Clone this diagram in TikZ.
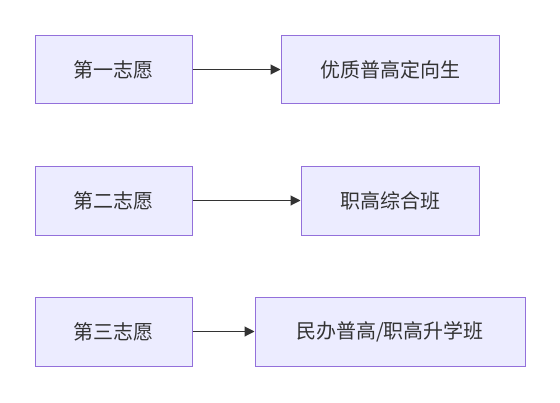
\documentclass[tikz,border=0pt]{standalone}
\usepackage{fontspec}
\setmainfont{Noto Sans CJK SC}
\usetikzlibrary{arrows.meta}
\definecolor{boxfill}{HTML}{ECECFF}
\definecolor{boxline}{HTML}{9370DB}
\definecolor{txt}{HTML}{333333}
\tikzset{
  nodebox/.style={draw=boxline, fill=boxfill, line width=1pt, inner sep=0pt, text=txt,
    font=\fontsize{20}{23}\selectfont},
  flow/.style={draw=txt, line width=1.1pt, -{Triangle[length=10pt,width=10pt]}}
}
\begin{document}
\begin{tikzpicture}[x=1pt,y=-1pt]
\useasboundingbox (0,0) rectangle (560,402);
\node[nodebox, minimum width=157pt, minimum height=68pt] (a1) at (113.5,69.5) {第一志愿};
\node[nodebox, minimum width=218pt, minimum height=68pt] (b1) at (390,69.5) {优质普高定向生};
\node[nodebox, minimum width=157pt, minimum height=69pt] (a2) at (113.5,200.5) {第二志愿};
\node[nodebox, minimum width=178pt, minimum height=69pt] (b2) at (390,200.5) {职高综合班};
\node[nodebox, minimum width=157pt, minimum height=69pt] (a3) at (113.5,331.5) {第三志愿};
\node[nodebox, minimum width=270pt, minimum height=69pt] (b3) at (390,331.5) {民办普高/职高升学班};
\draw[flow] (a1) -- (b1);
\draw[flow] (a2) -- (b2);
\draw[flow] (a3) -- (b3);
\end{tikzpicture}
\end{document}
